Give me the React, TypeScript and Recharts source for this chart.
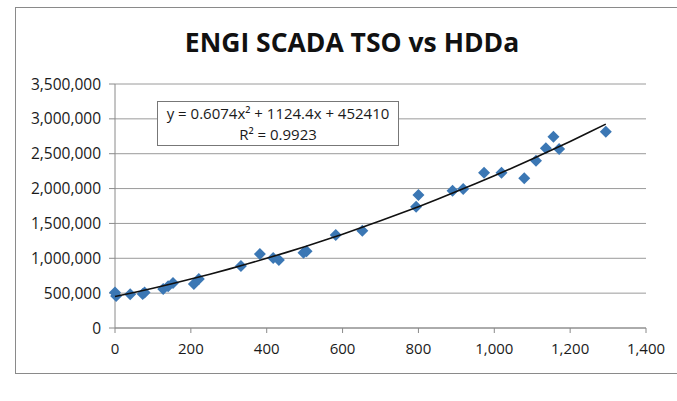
import React from 'react';
import { ScatterChart, Scatter, XAxis, YAxis, CartesianGrid } from 'recharts';

const TITLE = 'ENGI SCADA TSO vs HDDa';
const EQUATION = 'y = 0.6074x² + 1124.4x + 452410';
const R_SQUARED = 'R² = 0.9923';

const hddValues = [0, 3, 40, 73, 78, 127, 140, 153, 208, 221, 332, 382, 417, 432, 497, 505, 582, 652, 794, 800, 890, 918, 973, 1019, 1079, 1110, 1136, 1156, 1171, 1294];
const tsoValues = [510000, 460000, 485000, 488000, 510000, 560000, 600000, 645000, 631000, 703000, 889000, 1061000, 1004000, 975000, 1080000, 1100000, 1334000, 1396000, 1740000, 1908000, 1969000, 1994000, 2228000, 2228000, 2147000, 2400000, 2578000, 2744000, 2568000, 2816000];

const xTicks = [0, 200, 400, 600, 800, 1000, 1200, 1400];
const yTicks = [0, 500000, 1000000, 1500000, 2000000, 2500000, 3000000, 3500000];

// trendline coefficients as printed on the chart
const trendA = 0.6074;
const trendB = 1124.4;
const trendC = 452410;
const trendXs = [0, 50, 100, 150, 200, 250, 300, 350, 400, 450, 500, 550, 600, 650, 700, 750, 800, 850, 900, 950, 1000, 1050, 1100, 1150, 1200, 1250, 1294];

const points = hddValues.map((x, i) => ({ x, y: tsoValues[i] }));
const trend = trendXs.map((x) => ({ x, y: trendA * x * x + trendB * x + trendC }));

const fmt = (v: number) => v.toLocaleString('en-US');
const FONT = '"Open Sans", sans-serif';

const Diamond = (props: any) => {
  const { cx, cy } = props;
  const r = 6;
  return <path d={`M${cx},${cy - r}L${cx + r},${cy}L${cx},${cy + r}L${cx - r},${cy}Z`} fill="#3b77b4" />;
};

const NoDot = () => <g />;

export default function App() {
  return (
    <div style={{ position: 'absolute', left: 0, top: 0, width: 677, height: 401, overflow: 'hidden', background: '#fff' }}>
      <div style={{ position: 'absolute', left: 15, top: 7, width: 662, height: 365, borderLeft: '1.5px solid #8a8a8a', borderTop: '1.5px solid #8a8a8a', borderBottom: '1.5px solid #8a8a8a' }} />
      <div style={{ position: 'absolute', left: 0, top: 24, width: 704, textAlign: 'center', fontFamily: FONT, fontWeight: 700, fontSize: 26.5, color: '#111', lineHeight: '36px' }}>{TITLE}</div>
      <div style={{ position: 'absolute', left: 0, top: 0 }}>
        <ScatterChart width={677} height={401} margin={{ top: 84, right: 31, bottom: 43, left: 15 }}>
          <CartesianGrid vertical={false} stroke="#9a9a9a" strokeWidth={1} />
          <XAxis
            type="number"
            dataKey="x"
            domain={[0, 1400]}
            ticks={xTicks}
            tickFormatter={fmt}
            height={30}
            stroke="#8a8a8a"
            tickSize={5}
            tickMargin={10}
            tick={{ fill: '#1a1a1a', fontSize: 15, fontFamily: FONT }}
            interval={0}
          />
          <YAxis
            type="number"
            dataKey="y"
            domain={[0, 3500000]}
            ticks={yTicks}
            tickFormatter={fmt}
            width={100}
            stroke="#8a8a8a"
            tickSize={6}
            tickMargin={8}
            tick={{ fill: '#1a1a1a', fontSize: 15.5, fontFamily: FONT }}
            interval={0}
          />
          <Scatter data={points} shape={Diamond} isAnimationActive={false} />
          <Scatter data={trend} shape={NoDot} line={{ stroke: '#111', strokeWidth: 1.6 }} lineType="joint" isAnimationActive={false} />
        </ScatterChart>
      </div>
      <div style={{ position: 'absolute', left: 157, top: 101, width: 240, height: 43, border: '1.5px solid #777', background: '#fff', fontFamily: FONT, fontSize: 15, color: '#1a1a1a', display: 'flex', flexDirection: 'column', alignItems: 'center', justifyContent: 'center', lineHeight: '21px' }}>
        <div>{EQUATION}</div>
        <div>{R_SQUARED}</div>
      </div>
    </div>
  );
}
